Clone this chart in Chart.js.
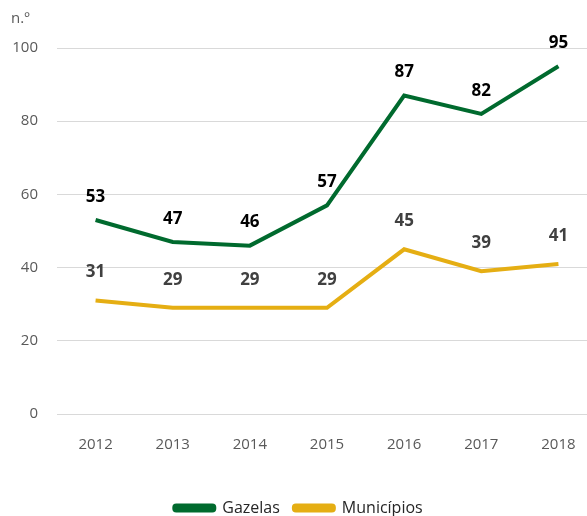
<!DOCTYPE html>
<html>
<head>
<meta charset="utf-8">
<script src="https://cdn.jsdelivr.net/npm/chart.js@4"></script>
<style>
  html, body { margin: 0; padding: 0; background: #fff; overflow: hidden; }
  #wrap { width: 597px; height: 516px; }
</style>
</head>
<body>
<div id="wrap"><canvas id="chart"></canvas></div>
<script>
const years = ['2012', '2013', '2014', '2015', '2016', '2017', '2018'];
const gazelas = [53, 47, 46, 57, 87, 82, 95];
const municipios = [31, 29, 29, 29, 45, 39, 41];
const yTicks = [0, 20, 40, 60, 80, 100];

const green = '#006a2e';
const gold = '#e5ae13';

// labels above points + unit text top-left
const labelPlugin = {
    id: 'labels',
    afterDatasetsDraw(chart) {
        const ctx = chart.ctx;
        ctx.save();
        ctx.textAlign = 'center';
        ctx.textBaseline = 'middle';
        ctx.font = 'bold 17px "Open Sans", "Liberation Sans", sans-serif';
        chart.data.datasets.forEach((ds, i) => {
            const meta = chart.getDatasetMeta(i);
            ctx.fillStyle = ds.labelColor;
            meta.data.forEach((pt, j) => {
                ctx.fillText(ds.data[j], pt.x, pt.y - ds.labelOffset);
            });
        });
        ctx.font = '15px "Open Sans", "Liberation Sans", sans-serif';
        ctx.fillStyle = '#595959';
        ctx.textAlign = 'left';
        ctx.fillText('n.º', 11, 19);
        ctx.restore();
    }
};

new Chart(document.getElementById('chart'), {
    type: 'line',
    data: {
        labels: years,
        datasets: [{
            label: 'Gazelas',
            data: gazelas,
            borderColor: green,
            backgroundColor: green,
            borderWidth: 4,
            pointRadius: 0,
            tension: 0,
            labelColor: '#000000',
            labelOffset: 23
        }, {
            label: 'Municípios',
            data: municipios,
            borderColor: gold,
            backgroundColor: gold,
            borderWidth: 4,
            pointRadius: 0,
            tension: 0,
            labelColor: '#404040',
            labelOffset: 28
        }]
    },
    options: {
        responsive: true,
        maintainAspectRatio: false,
        animation: false,
        layout: { padding: { top: 48, left: 0, right: 0, bottom: -10 } },
        plugins: {
            legend: {
                position: 'bottom',
                labels: {
                    boxWidth: 40,
                    boxHeight: 5,
                    padding: 14,
                    color: '#262626',
                    font: { size: 16, family: '"Open Sans", "Liberation Sans", sans-serif' },
                    useBorderRadius: true,
                    borderRadius: 2
                }
            },
            tooltip: { enabled: false }
        },
        scales: {
            x: {
                offset: true,
                grid: { display: false },
                border: { display: false },
                ticks: {
                    color: '#595959',
                    padding: 14,
                    font: { size: 15, family: '"Open Sans", "Liberation Sans", sans-serif' }
                },
                afterFit(scale) { scale.height = 72; }
            },
            y: {
                min: 0,
                max: 100,
                afterBuildTicks(scale) { scale.ticks = yTicks.map(v => ({ value: v })); },
                grid: { color: '#d9d9d9', lineWidth: 1, drawTicks: false },
                border: { display: false },
                ticks: {
                    color: '#595959',
                    padding: 19,
                    font: { size: 15, family: '"Open Sans", "Liberation Sans", sans-serif' }
                },
                afterFit(scale) { scale.width = 57; }
            }
        }
    },
    plugins: [labelPlugin]
});
</script>
</body>
</html>
